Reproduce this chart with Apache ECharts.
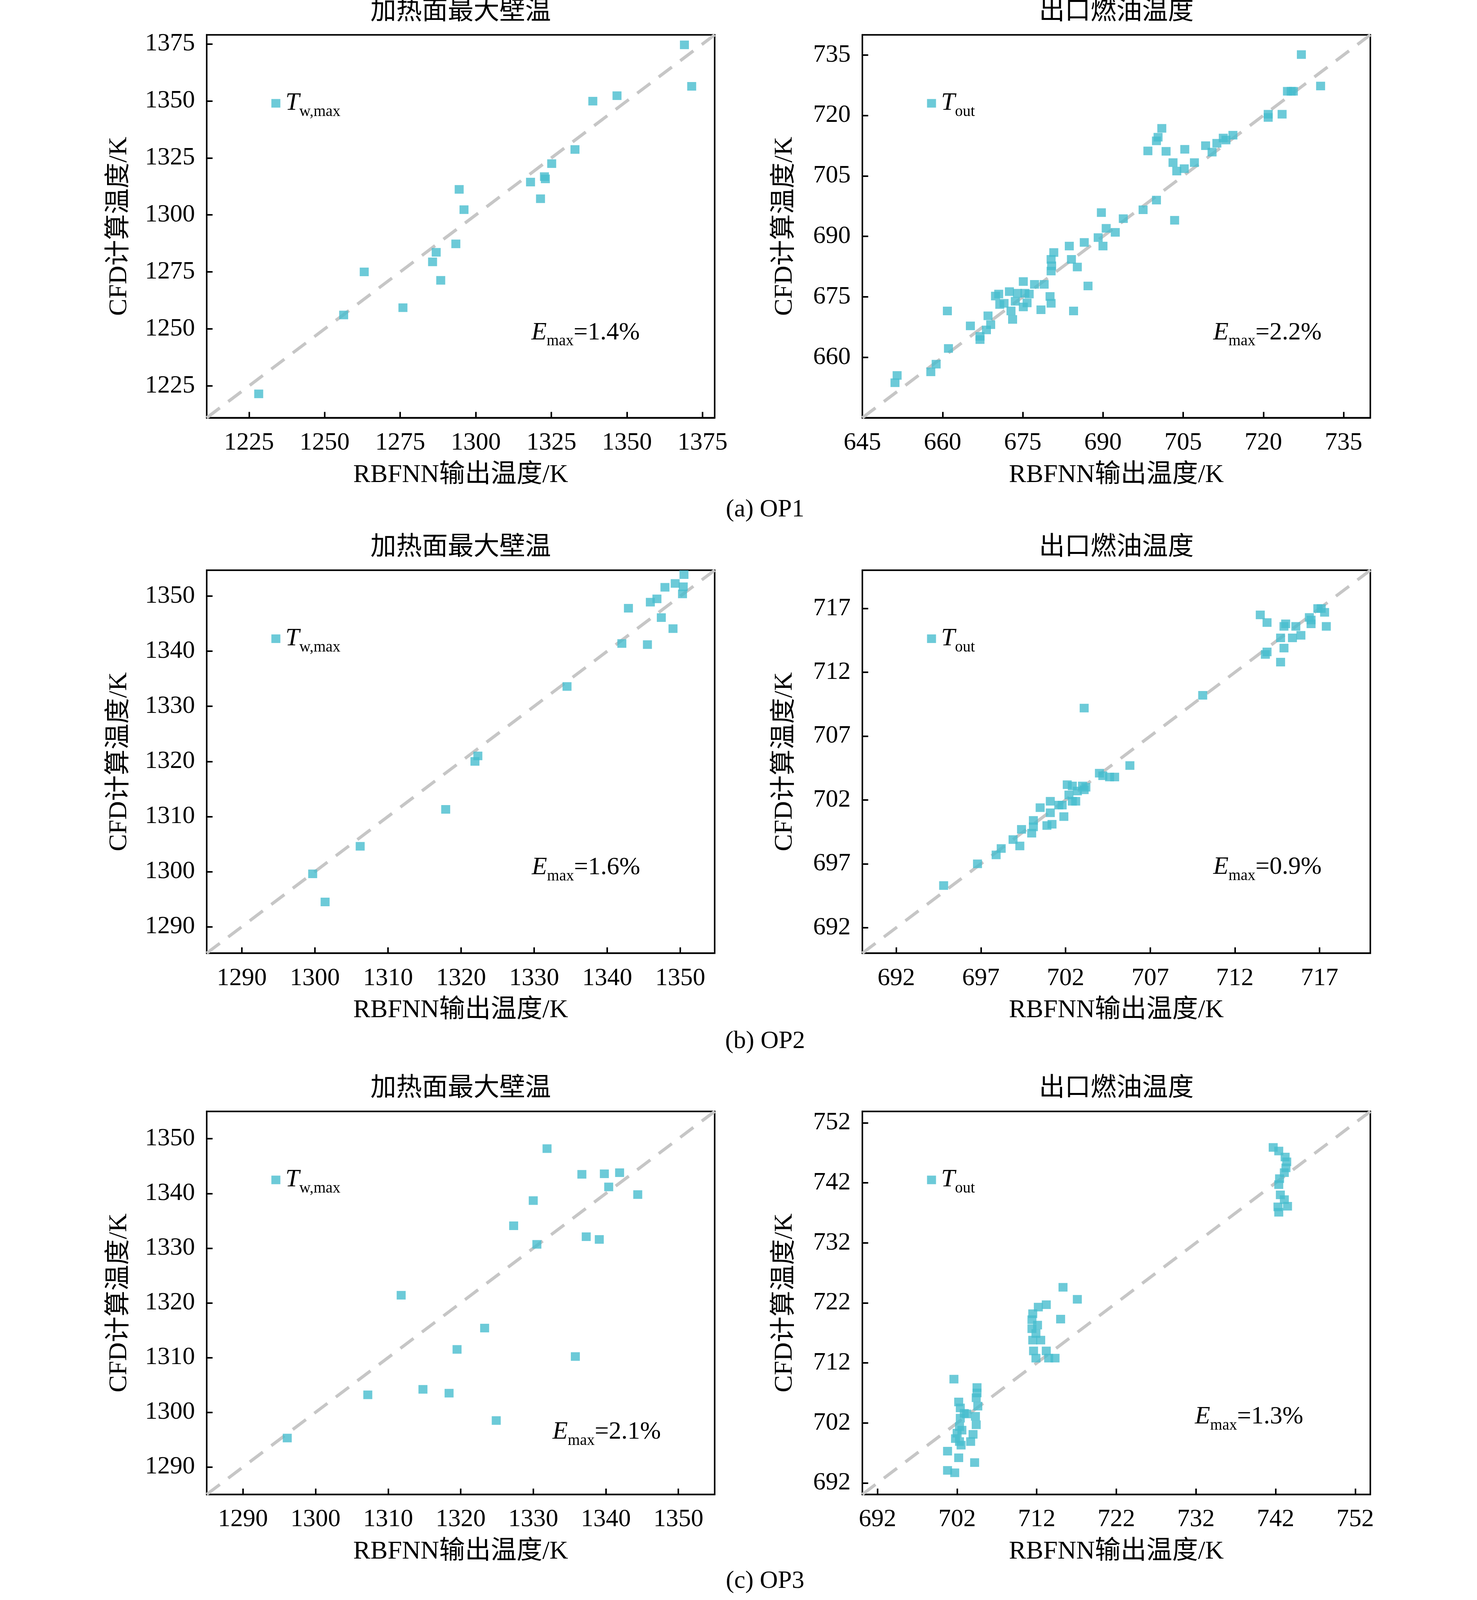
<!DOCTYPE html>
<html>
<head>
<meta charset="utf-8">
<script src="https://cdn.jsdelivr.net/npm/echarts@6/dist/echarts.min.js"></script>
<style>
html,body{margin:0;padding:0;background:#fff;overflow:hidden;}
#chart{width:3780px;height:100vh;}
</style>
</head>
<body>
<div id="chart"></div>
<script>
// ---------------- data ----------------
const panelTitles = ['加热面最大壁温', '出口燃油温度'];
const opLabels = ['(a) OP1', '(b) OP2', '(c) OP3'];
const xName = 'RBFNN输出温度/K';
const yName = 'CFD计算温度/K';
const emaxValues = ['1.4%', '2.2%', '1.6%', '0.9%', '2.1%', '1.3%'];

// axis bounds [min, max]
const op1WallRange = [1211, 1379];
const op1OutRange = [645, 740];
const op2WallRange = [1285.2, 1354.7];
const op2OutRange = [690, 720];
const op3WallRange = [1285, 1355];
const op3OutRange = [690.1, 753.9];

// tick labels
const op1WallTicks = [1225, 1250, 1275, 1300, 1325, 1350, 1375];
const op1OutTicksX = [645, 660, 675, 690, 705, 720, 735];
const op1OutTicksY = [660, 675, 690, 705, 720, 735];
const op2WallTicks = [1290, 1300, 1310, 1320, 1330, 1340, 1350];
const op2OutTicks = [692, 697, 702, 707, 712, 717];
const op3WallTicks = [1290, 1300, 1310, 1320, 1330, 1340, 1350];
const op3OutTicks = [692, 702, 712, 722, 732, 742, 752];

// [RBFNN output, CFD result]
const op1WallPoints = [
  [1228.2,1221.5],[1256.3,1256.1],[1263.1,1275.0],[1275.9,1259.3],[1285.7,1279.4],
  [1286.9,1283.6],[1288.4,1271.3],[1293.4,1287.3],[1294.5,1311.2],[1296.1,1302.3],
  [1318.1,1314.4],[1321.4,1307.1],[1322.7,1316.8],[1323.0,1315.8],[1325.1,1322.5],
  [1332.8,1328.7],[1338.7,1349.9],[1346.7,1352.3],[1369.0,1374.6],[1371.4,1356.4]
];
const op1OutPoints = [
  [651.1,653.7],[651.5,655.5],[657.8,656.4],[658.8,658.3],[660.9,671.5],[661.1,662.2],
  [665.2,667.8],[667.0,665.2],[667.0,664.4],[668.2,666.8],[668.5,670.3],[669.0,668.1],
  [669.9,675.2],[670.5,675.7],[670.7,673.1],[671.5,673.4],[672.5,676.3],[672.8,671.5],
  [673.1,669.4],[673.6,673.9],[674.0,675.9],[675.1,678.8],[675.1,672.5],[675.4,675.9],
  [675.8,673.5],[676.2,675.7],[677.2,678.1],[678.4,671.8],[679.0,678.1],[680.1,675.1],
  [680.3,673.4],[680.3,681.4],[680.3,684.3],[680.4,682.7],[680.8,686.0],[683.7,687.6],
  [684.1,684.3],[684.5,671.5],[685.2,682.4],[686.5,688.5],[687.2,677.7],[689.1,689.7],
  [689.7,695.9],[690.0,687.6],[690.6,692.0],[692.3,691.0],[693.8,694.4],[697.5,696.6],
  [698.4,711.2],[700.0,699.0],[700.0,713.7],[700.3,714.6],[701.0,716.8],[701.8,711.1],
  [703.1,708.3],[703.4,694.0],[703.8,706.2],[705.2,706.8],[705.3,711.6],[707.1,708.3],
  [709.2,712.5],[710.4,710.9],[711.3,713.1],[712.5,714.4],[713.0,713.9],[714.3,715.1],
  [720.9,720.3],[720.9,719.5],[723.5,720.3],[724.5,726.0],[725.2,726.0],[725.6,726.0],
  [727.1,735.1],[730.7,727.3]
];
const op2WallPoints = [
  [1299.7,1299.6],[1301.4,1294.5],[1306.2,1304.6],[1317.9,1311.3],[1321.9,1320.0],
  [1322.3,1321.0],[1334.5,1333.6],[1342.0,1341.4],[1342.9,1347.8],[1345.5,1341.2],
  [1345.9,1348.9],[1346.8,1349.5],[1347.4,1346.1],[1347.9,1351.6],[1349.0,1344.1],
  [1349.3,1352.3],[1350.3,1350.4],[1350.4,1351.7],[1350.5,1353.9]
];
const op2OutPoints = [
  [694.8,695.3],[696.8,697.0],[697.9,697.7],[698.2,698.2],[698.9,698.9],[699.3,698.4],
  [699.4,699.7],[700.0,699.4],[700.1,700.4],[700.1,699.9],[700.5,701.4],[700.9,700.0],
  [701.1,701.0],[701.1,701.9],[701.2,700.1],[701.6,701.6],[701.8,701.6],[701.9,700.7],
  [702.1,703.2],[702.2,702.4],[702.4,703.1],[702.4,701.9],[702.6,701.9],[702.7,702.7],
  [703.0,703.1],[703.1,702.8],[703.2,703.0],[703.1,709.2],[704.0,704.1],[704.2,703.9],
  [704.6,703.8],[704.9,703.8],[705.8,704.7],[710.1,710.2],[713.5,716.5],[713.8,713.4],
  [713.9,713.6],[713.9,715.9],[714.7,714.7],[714.7,712.8],[714.9,713.9],[714.9,715.6],
  [715.0,715.8],[715.4,714.7],[715.6,715.6],[715.9,714.9],[716.4,716.3],[716.5,715.8],
  [716.5,716.1],[716.9,717.0],[717.1,717.0],[717.3,716.7],[717.4,715.6]
];
const op3WallPoints = [
  [1296.1,1295.3],[1307.2,1303.2],[1311.8,1321.4],[1314.8,1304.2],[1318.4,1303.5],
  [1319.5,1311.5],[1323.3,1315.4],[1324.9,1298.5],[1327.3,1334.1],[1330.0,1338.7],
  [1330.5,1330.7],[1331.9,1348.2],[1335.8,1310.2],[1336.7,1343.5],[1337.3,1332.1],
  [1339.1,1331.6],[1339.8,1343.6],[1340.4,1341.2],[1341.9,1343.8],[1344.4,1339.8]
];
const op3OutPoints = [
  [701.6,709.3],[700.8,697.3],[700.8,694.1],[701.7,693.7],[702.2,696.2],[704.2,695.4],
  [702.2,705.5],[702.4,704.5],[702.9,703.6],[703.2,703.5],[702.4,702.8],[702.3,701.4],
  [702.6,700.8],[702.0,700.3],[701.8,699.4],[702.3,698.9],[702.5,698.3],[703.7,698.9],
  [704.0,700.1],[704.4,701.7],[704.3,703.1],[704.6,704.8],[704.4,706.2],[704.5,707.0],
  [704.5,707.9],
  [715.3,724.6],[717.1,722.6],[713.2,721.7],[712.2,721.3],[711.5,720.2],[711.4,719.2],
  [712.1,718.3],[711.4,717.7],[711.9,716.9],[715.0,719.3],[711.5,715.8],[712.5,715.8],
  [711.6,714.0],[711.9,712.8],[713.2,714.0],[713.5,712.8],[714.3,712.8],
  [741.7,747.9],[742.4,747.3],[743.2,746.3],[743.4,745.5],[743.3,744.5],[743.1,743.7],
  [742.5,742.7],[742.4,741.7],[742.6,740.0],[743.1,739.2],[743.5,738.1],[742.3,738.0],
  [742.4,737.1]
];

// ---------------- layout (designed for 4136 px height, fitted to the viewport) ----------------
const SY = Math.min(1, (window.innerHeight || 4136) / 4136);
const FONT = '"Liberation Serif", "Times New Roman", "Noto Sans CJK SC", serif';
const COLS = [529, 2207];
const ROWS = [90, 1474, 2873].map(v => v * SY);
const W = 1300, H = 990 * SY;
const MARK = '#47BDCE';

const panels = [
  {pts: op1WallPoints, range: op1WallRange, tx: op1WallTicks, ty: op1WallTicks, wall: true, emaxPos: [1360, 854]},
  {pts: op1OutPoints, range: op1OutRange, tx: op1OutTicksX, ty: op1OutTicksY, wall: false, emaxPos: [3105, 854]},
  {pts: op2WallPoints, range: op2WallRange, tx: op2WallTicks, ty: op2WallTicks, wall: true, emaxPos: [1361, 2237]},
  {pts: op2OutPoints, range: op2OutRange, tx: op2OutTicks, ty: op2OutTicks, wall: false, emaxPos: [3105, 2236]},
  {pts: op3WallPoints, range: op3WallRange, tx: op3WallTicks, ty: op3WallTicks, wall: true, emaxPos: [1414, 3696]},
  {pts: op3OutPoints, range: op3OutRange, tx: op3OutTicks, ty: op3OutTicks, wall: false, emaxPos: [3058, 3657]}
];

const grid = [], xAxis = [], yAxis = [], series = [], legend = [], title = [], graphic = [];
const subRich = {
  m: {fontFamily: FONT, fontStyle: 'italic', fontSize: 64, lineHeight: 72, color: '#000'},
  s: {fontFamily: FONT, fontSize: 40, lineHeight: 72, padding: [44, 0, 0, 0], color: '#000'},
  n: {fontFamily: FONT, fontSize: 64, lineHeight: 72, color: '#000'}
};
const plain = v => String(v);

panels.forEach((p, i) => {
  const col = i % 2, row = Math.floor(i / 2);
  const left = COLS[col], top = ROWS[row];
  grid.push({left: left, top: top, width: W, height: H, show: true, borderColor: '#000', borderWidth: 4, backgroundColor: '#fff'});
  const axisCommon = {
    min: p.range[0], max: p.range[1],
    splitLine: {show: false},
    axisLine: {show: true, onZero: false, lineStyle: {color: '#000', width: 4}},
    nameTextStyle: {fontFamily: FONT, fontSize: 66, color: '#000', lineHeight: 70},
    nameLocation: 'middle'
  };
  const tickStyle = {show: true, inside: true, length: 15, lineStyle: {color: '#000', width: 4}};
  const labelStyle = {fontFamily: FONT, fontSize: 64, color: '#000', margin: 30, lineHeight: 70, formatter: plain, showMinLabel: true, showMaxLabel: true};
  xAxis.push(Object.assign({}, axisCommon, {
    type: 'value', gridIndex: i, position: 'bottom',
    name: xName, nameGap: 112,
    axisTick: Object.assign({customValues: p.tx}, tickStyle),
    axisLabel: Object.assign({customValues: p.tx}, labelStyle)
  }));
  yAxis.push(Object.assign({}, axisCommon, {
    type: 'value', gridIndex: i, position: 'left',
    name: yName, nameGap: col === 0 ? 188 : 163,
    axisTick: Object.assign({customValues: p.ty}, tickStyle),
    axisLabel: Object.assign({customValues: p.ty}, labelStyle)
  }));
  const sname = p.wall ? 'Tw,max' : 'Tout';
  // y = x reference line across the axis range
  series.push({
    type: 'line', xAxisIndex: i, yAxisIndex: i, silent: true, symbol: 'none', z: 1,
    data: [[p.range[0], p.range[0]], [p.range[1], p.range[1]]],
    lineStyle: {color: '#C6C6C6', width: 8, type: [42, 27]}
  });
  series.push({
    type: 'scatter', name: sname, xAxisIndex: i, yAxisIndex: i, z: 3,
    symbol: 'rect', symbolSize: [23, 22],
    itemStyle: {color: MARK},
    data: p.pts
  });
  const lx = left + 177, ly = top + 171 * SY;
  legend.push({
    left: lx - 11.5, top: ly - 36, padding: 0, itemWidth: 23, itemHeight: 22, icon: 'rect',
    data: [sname], selectedMode: false,
    formatter: () => p.wall ? '{m|T}{s|w,max}' : '{m|T}{s|out}',
    textStyle: {rich: {
      m: Object.assign({}, subRich.m, {padding: [0, 0, 0, 8]}),
      s: subRich.s
    }}
  });
  graphic.push({
    type: 'text', left: p.emaxPos[0], top: p.emaxPos[1] * SY - 36,
    style: {text: '{m|E}{s|max}{n|=' + emaxValues[i] + '}', rich: subRich}
  });
});

ROWS.forEach((top, r) => {
  COLS.forEach((left, c) => {
    title.push({
      text: panelTitles[c], left: left + W / 2, top: top - 58 * SY - 35, textAlign: 'center', padding: 0,
      textStyle: {fontFamily: FONT, fontSize: 66, fontWeight: 'normal', color: '#000', lineHeight: 70}
    });
  });
});
const opY = [1318, 2692, 4088];
opLabels.forEach((t, r) => {
  title.push({
    text: t, left: 1958, top: opY[r] * SY - 35, textAlign: 'center', padding: 0,
    textStyle: {fontFamily: FONT, fontSize: 64, fontWeight: 'normal', color: '#000', lineHeight: 70}
  });
});

const chart = echarts.init(document.getElementById('chart'), null, {renderer: 'canvas'});
chart.setOption({
  backgroundColor: '#fff',
  animation: false,
  title: title,
  legend: legend,
  grid: grid,
  xAxis: xAxis,
  yAxis: yAxis,
  series: series,
  graphic: graphic
});
</script>
</body>
</html>
